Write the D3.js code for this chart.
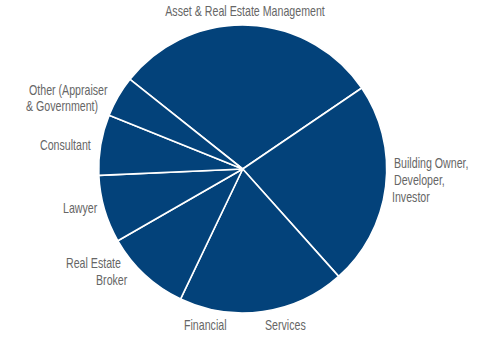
<!DOCTYPE html>
<html>
<head>
<meta charset="utf-8">
<script src="https://cdn.jsdelivr.net/npm/d3@7"></script>
<style>
  body { margin: 0; background: #fff; }
  svg { display: block; }
  .label { font-family: "Liberation Sans", Arial, sans-serif; font-size: 14px; fill: #666; }
</style>
</head>
<body>
<div id="grafico-pizza"><svg width="500" height="352"></svg></div>
<script>
// categorias e valores (% aproximado)
const categorias = ['Asset & Real Estate Management', 'Building Owner, Developer, Investor', 'Financial Services',
  'Real Estate Broker', 'Lawyer', 'Consultant', 'Other (Appraiser & Government)']
const valores = [29.8, 22.9, 18.7, 9.6, 7.6, 6.8, 4.6]

// rotulos quebrados em linhas
const rotulos = [
  ['Asset & Real Estate Management'],
  ['Building Owner,', 'Developer,', 'Investor'],
  ['Financial', 'Services'],
  ['Real Estate', 'Broker'],
  ['Lawyer'],
  ['Consultant'],
  ['Other (Appraiser', '& Government)']
]

// posicao de cada linha de rotulo [x, y, anchor]
const posRotulos = [
  [[245, 16, 'middle']],
  [[394, 168, 'start'], [394, 185, 'start'], [392, 202, 'start']],
  [[184, 330, 'start'], [265, 330, 'start']],
  [[66, 268, 'start'], [96, 285, 'start']],
  [[63, 213, 'start']],
  [[40, 150, 'start']],
  [[29, 95, 'start'], [26, 111, 'start']]
]

const dados = categorias.map((c, i) => ({ name: c, value: valores[i], linhas: rotulos[i], pos: posRotulos[i] }))

const svg = d3.select('#grafico-pizza svg')
const cx = 242.7, cy = 169, raio = 144

const inicio = -51.5 * Math.PI / 180
const pie = d3.pie()
  .sort(null)
  .value((d) => d.value)
  .startAngle(inicio)
  .endAngle(inicio + 2 * Math.PI)

const arc = d3.arc()
  .innerRadius(0)
  .outerRadius(raio)

const chart = svg.append('g')
  .attr('transform', `translate(${cx}, ${cy})`)

chart.selectAll('path')
  .data(pie(dados))
  .enter()
  .append('path')
  .attr('d', arc)
  .attr('fill', '#03427a')
  .attr('stroke', '#fff')
  .attr('stroke-width', 1.6)
  .attr('stroke-linejoin', 'round')

/*rotulos - fonte condensada simulada com escala horizontal*/
dados.forEach((d) => {
  d.linhas.forEach((t, j) => {
    svg.append('text')
      .attr('class', 'label')
      .attr('transform', `translate(${d.pos[j][0]}, ${d.pos[j][1]}) scale(0.76, 1)`)
      .attr('text-anchor', d.pos[j][2])
      .text(t)
  })
})
</script>
</body>
</html>
